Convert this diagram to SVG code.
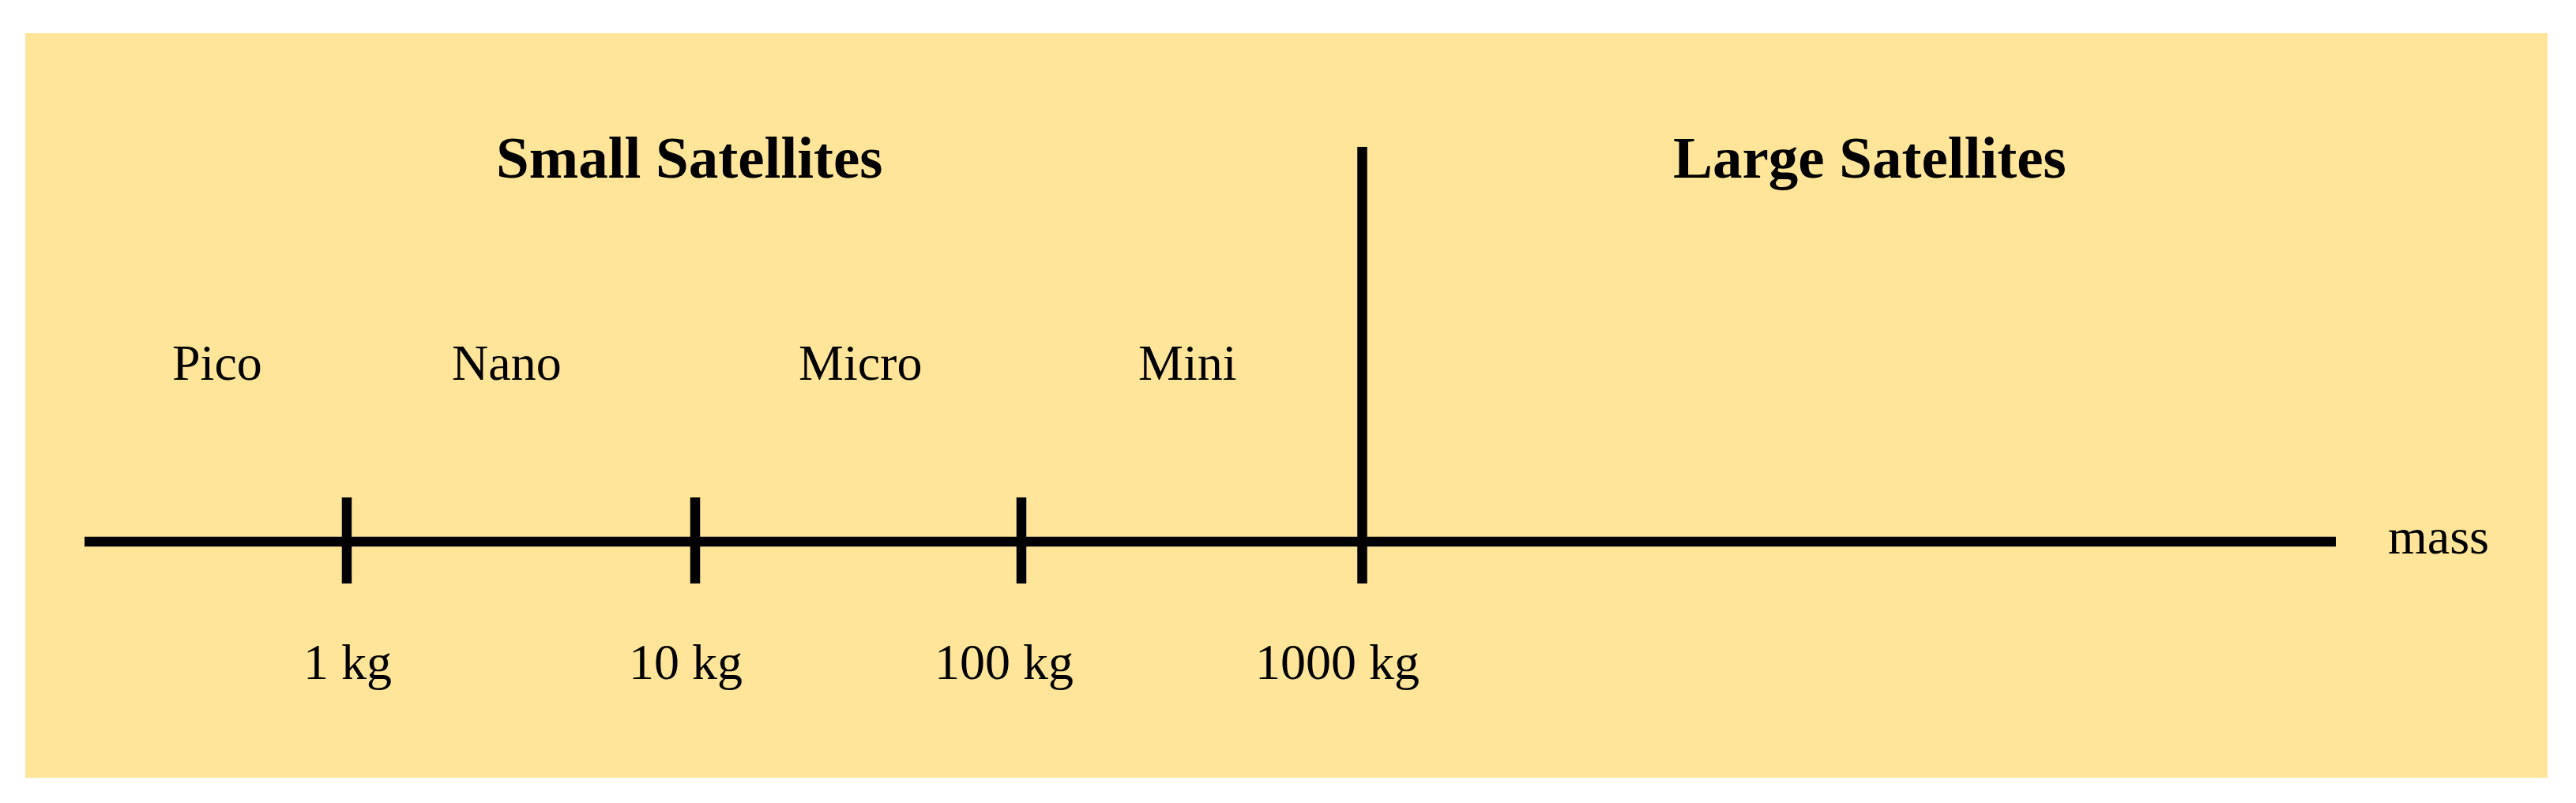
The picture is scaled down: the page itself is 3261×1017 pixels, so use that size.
<svg xmlns="http://www.w3.org/2000/svg" width="3261" height="1017" viewBox="0 0 3261 1017">
<style>
.lbl{font-family:"Liberation Serif","Times New Roman",serif;font-size:64px;fill:#000}
.ttl{font-family:"Liberation Serif","Times New Roman",serif;font-size:75px;font-weight:bold;fill:#000}
.ln{stroke:#000;stroke-width:12.5;fill:none}
</style>
<rect x="0" y="0" width="3261" height="1017" fill="#fff"/>
<rect id="background" x="32" y="42" width="3193" height="943" fill="#FFE599"/>
<g id="connectors">
<line class="ln" x1="107" y1="686" x2="2957" y2="686" stroke-width="13"/>
<line class="ln" x1="439" y1="630" x2="439" y2="739"/>
<line class="ln" x1="880" y1="630" x2="880" y2="739"/>
<line class="ln" x1="1293" y1="630" x2="1293" y2="739"/>
<line class="ln" x1="1724.5" y1="186" x2="1724.5" y2="739"/>
</g>
<g id="title-small"><text class="ttl" x="628" y="225">Small Satellites</text></g>
<g id="title-large"><text class="ttl" x="2118" y="225">Large Satellites</text></g>
<g id="pico"><text class="lbl" x="218" y="481">Pico</text></g>
<g id="nano"><text class="lbl" x="572" y="481">Nano</text></g>
<g id="micro"><text class="lbl" x="1011" y="481">Micro</text></g>
<g id="mini"><text class="lbl" x="1441" y="481">Mini</text></g>
<g id="kg1"><text class="lbl" x="384" y="860">1 kg</text></g>
<g id="kg10"><text class="lbl" x="796" y="860">10 kg</text></g>
<g id="kg100"><text class="lbl" x="1183" y="860">100 kg</text></g>
<g id="kg1000"><text class="lbl" x="1589" y="860">1000 kg</text></g>
<g id="mass"><text class="lbl" x="3023" y="701">mass</text></g>
</svg>
